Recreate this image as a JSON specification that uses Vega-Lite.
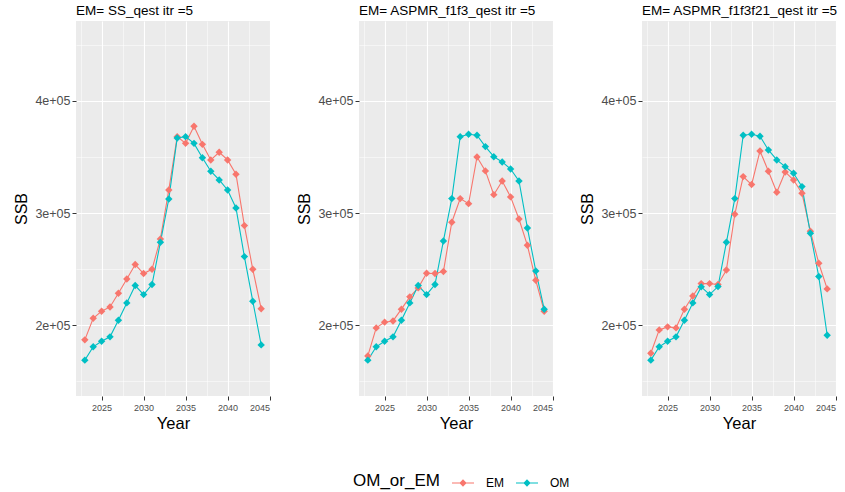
{
  "$schema": "https://vega.github.io/schema/vega-lite/v6.json",
  "padding": {"left": 13, "top": 3, "right": 2, "bottom": 2},
  "bounds": "flush",
  "spacing": 89,
  "background": "white",
  "datasets": {
    "ssb": [
      {"panel":"SS","type":"EM","year":2023,"ssb":186800},{"panel":"SS","type":"EM","year":2024,"ssb":206100},{"panel":"SS","type":"EM","year":2025,"ssb":212400},{"panel":"SS","type":"EM","year":2026,"ssb":216200},{"panel":"SS","type":"EM","year":2027,"ssb":228400},{"panel":"SS","type":"EM","year":2028,"ssb":241200},{"panel":"SS","type":"EM","year":2029,"ssb":254000},{"panel":"SS","type":"EM","year":2030,"ssb":246000},{"panel":"SS","type":"EM","year":2031,"ssb":249800},{"panel":"SS","type":"EM","year":2032,"ssb":276900},{"panel":"SS","type":"EM","year":2033,"ssb":320600},{"panel":"SS","type":"EM","year":2034,"ssb":368200},{"panel":"SS","type":"EM","year":2035,"ssb":362200},{"panel":"SS","type":"EM","year":2036,"ssb":377400},{"panel":"SS","type":"EM","year":2037,"ssb":361300},{"panel":"SS","type":"EM","year":2038,"ssb":347400},{"panel":"SS","type":"EM","year":2039,"ssb":354200},{"panel":"SS","type":"EM","year":2040,"ssb":347400},{"panel":"SS","type":"EM","year":2041,"ssb":334600},{"panel":"SS","type":"EM","year":2042,"ssb":288800},{"panel":"SS","type":"EM","year":2043,"ssb":249800},{"panel":"SS","type":"EM","year":2044,"ssb":214500},
      {"panel":"SS","type":"OM","year":2023,"ssb":168700},{"panel":"SS","type":"OM","year":2024,"ssb":180600},{"panel":"SS","type":"OM","year":2025,"ssb":185600},{"panel":"SS","type":"OM","year":2026,"ssb":189500},{"panel":"SS","type":"OM","year":2027,"ssb":204300},{"panel":"SS","type":"OM","year":2028,"ssb":219800},{"panel":"SS","type":"OM","year":2029,"ssb":235300},{"panel":"SS","type":"OM","year":2030,"ssb":227200},{"panel":"SS","type":"OM","year":2031,"ssb":236200},{"panel":"SS","type":"OM","year":2032,"ssb":273900},{"panel":"SS","type":"OM","year":2033,"ssb":312600},{"panel":"SS","type":"OM","year":2034,"ssb":367000},{"panel":"SS","type":"OM","year":2035,"ssb":368200},{"panel":"SS","type":"OM","year":2036,"ssb":362200},{"panel":"SS","type":"OM","year":2037,"ssb":349400},{"panel":"SS","type":"OM","year":2038,"ssb":337300},{"panel":"SS","type":"OM","year":2039,"ssb":329500},{"panel":"SS","type":"OM","year":2040,"ssb":320600},{"panel":"SS","type":"OM","year":2041,"ssb":304500},{"panel":"SS","type":"OM","year":2042,"ssb":261100},{"panel":"SS","type":"OM","year":2043,"ssb":221300},{"panel":"SS","type":"OM","year":2044,"ssb":182300},
      {"panel":"F13","type":"EM","year":2023,"ssb":172500},{"panel":"F13","type":"EM","year":2024,"ssb":197500},{"panel":"F13","type":"EM","year":2025,"ssb":202600},{"panel":"F13","type":"EM","year":2026,"ssb":203700},{"panel":"F13","type":"EM","year":2027,"ssb":214200},{"panel":"F13","type":"EM","year":2028,"ssb":225200},{"panel":"F13","type":"EM","year":2029,"ssb":233200},{"panel":"F13","type":"EM","year":2030,"ssb":246300},{"panel":"F13","type":"EM","year":2031,"ssb":246000},{"panel":"F13","type":"EM","year":2032,"ssb":247800},{"panel":"F13","type":"EM","year":2033,"ssb":291800},{"panel":"F13","type":"EM","year":2034,"ssb":312900},{"panel":"F13","type":"EM","year":2035,"ssb":308400},{"panel":"F13","type":"EM","year":2036,"ssb":350000},{"panel":"F13","type":"EM","year":2037,"ssb":337600},{"panel":"F13","type":"EM","year":2038,"ssb":316400},{"panel":"F13","type":"EM","year":2039,"ssb":328600},{"panel":"F13","type":"EM","year":2040,"ssb":314400},{"panel":"F13","type":"EM","year":2041,"ssb":294700},{"panel":"F13","type":"EM","year":2042,"ssb":271200},{"panel":"F13","type":"EM","year":2043,"ssb":240000},{"panel":"F13","type":"EM","year":2044,"ssb":212400},
      {"panel":"F13","type":"OM","year":2023,"ssb":168700},{"panel":"F13","type":"OM","year":2024,"ssb":180600},{"panel":"F13","type":"OM","year":2025,"ssb":185600},{"panel":"F13","type":"OM","year":2026,"ssb":189500},{"panel":"F13","type":"OM","year":2027,"ssb":204300},{"panel":"F13","type":"OM","year":2028,"ssb":219800},{"panel":"F13","type":"OM","year":2029,"ssb":235300},{"panel":"F13","type":"OM","year":2030,"ssb":227200},{"panel":"F13","type":"OM","year":2031,"ssb":236200},{"panel":"F13","type":"OM","year":2032,"ssb":275100},{"panel":"F13","type":"OM","year":2033,"ssb":312900},{"panel":"F13","type":"OM","year":2034,"ssb":368200},{"panel":"F13","type":"OM","year":2035,"ssb":370300},{"panel":"F13","type":"OM","year":2036,"ssb":369400},{"panel":"F13","type":"OM","year":2037,"ssb":359300},{"panel":"F13","type":"OM","year":2038,"ssb":350300},{"panel":"F13","type":"OM","year":2039,"ssb":345600},{"panel":"F13","type":"OM","year":2040,"ssb":339300},{"panel":"F13","type":"OM","year":2041,"ssb":328600},{"panel":"F13","type":"OM","year":2042,"ssb":286700},{"panel":"F13","type":"OM","year":2043,"ssb":248300},{"panel":"F13","type":"OM","year":2044,"ssb":214200},
      {"panel":"F1321","type":"EM","year":2023,"ssb":174900},{"panel":"F1321","type":"EM","year":2024,"ssb":195700},{"panel":"F1321","type":"EM","year":2025,"ssb":198400},{"panel":"F1321","type":"EM","year":2026,"ssb":197500},{"panel":"F1321","type":"EM","year":2027,"ssb":214200},{"panel":"F1321","type":"EM","year":2028,"ssb":226000},{"panel":"F1321","type":"EM","year":2029,"ssb":237000},{"panel":"F1321","type":"EM","year":2030,"ssb":237000},{"panel":"F1321","type":"EM","year":2031,"ssb":236200},{"panel":"F1321","type":"EM","year":2032,"ssb":249200},{"panel":"F1321","type":"EM","year":2033,"ssb":298900},{"panel":"F1321","type":"EM","year":2034,"ssb":332500},{"panel":"F1321","type":"EM","year":2035,"ssb":325400},{"panel":"F1321","type":"EM","year":2036,"ssb":355400},{"panel":"F1321","type":"EM","year":2037,"ssb":337300},{"panel":"F1321","type":"EM","year":2038,"ssb":318500},{"panel":"F1321","type":"EM","year":2039,"ssb":336700},{"panel":"F1321","type":"EM","year":2040,"ssb":329500},{"panel":"F1321","type":"EM","year":2041,"ssb":317600},{"panel":"F1321","type":"EM","year":2042,"ssb":283700},{"panel":"F1321","type":"EM","year":2043,"ssb":255200},{"panel":"F1321","type":"EM","year":2044,"ssb":232300},
      {"panel":"F1321","type":"OM","year":2023,"ssb":168700},{"panel":"F1321","type":"OM","year":2024,"ssb":180600},{"panel":"F1321","type":"OM","year":2025,"ssb":185600},{"panel":"F1321","type":"OM","year":2026,"ssb":189500},{"panel":"F1321","type":"OM","year":2027,"ssb":204300},{"panel":"F1321","type":"OM","year":2028,"ssb":219800},{"panel":"F1321","type":"OM","year":2029,"ssb":234100},{"panel":"F1321","type":"OM","year":2030,"ssb":227200},{"panel":"F1321","type":"OM","year":2031,"ssb":234400},{"panel":"F1321","type":"OM","year":2032,"ssb":273900},{"panel":"F1321","type":"OM","year":2033,"ssb":312900},{"panel":"F1321","type":"OM","year":2034,"ssb":369400},{"panel":"F1321","type":"OM","year":2035,"ssb":370300},{"panel":"F1321","type":"OM","year":2036,"ssb":368500},{"panel":"F1321","type":"OM","year":2037,"ssb":356300},{"panel":"F1321","type":"OM","year":2038,"ssb":347400},{"panel":"F1321","type":"OM","year":2039,"ssb":341400},{"panel":"F1321","type":"OM","year":2040,"ssb":335500},{"panel":"F1321","type":"OM","year":2041,"ssb":323600},{"panel":"F1321","type":"OM","year":2042,"ssb":281900},{"panel":"F1321","type":"OM","year":2043,"ssb":243300},{"panel":"F1321","type":"OM","year":2044,"ssb":190900}
    ]
  },
  "data": {"name": "ssb"},
  "hconcat": [
    {
      "title": {"text": "EM= SS_qest itr =5"},
      "width": 194, "height": 375,
      "transform": [{"filter": "datum.panel === 'SS'"}],
      "encoding": {
        "x": {"field": "year", "type": "quantitative", "title": "Year", "scale": {"domain": [2021.95, 2045.05], "nice": false, "zero": false},
              "axis": {"values": [2022.5, 2025, 2027.5, 2030, 2032.5, 2035, 2037.5, 2040, 2042.5, 2045], "labelExpr": "datum.value % 5 === 0 ? datum.label : ''", "format": "d",
                       "gridWidth": {"condition": {"test": "datum.value % 5 === 0", "value": 1.1}, "value": 0.5},
                       "tickOpacity": {"condition": {"test": "datum.value % 5 === 0", "value": 1}, "value": 0}}},
        "y": {"field": "ssb", "type": "quantitative", "title": "SSB", "scale": {"domain": [136700, 471400], "nice": false, "zero": false},
              "axis": {"values": [150000, 200000, 250000, 300000, 350000, 400000, 450000], "labelExpr": "datum.value % 100000 === 0 ? (datum.value / 100000) + 'e+05' : ''",
                       "gridWidth": {"condition": {"test": "datum.value % 100000 === 0", "value": 1.1}, "value": 0.5},
                       "tickOpacity": {"condition": {"test": "datum.value % 100000 === 0", "value": 1}, "value": 0}}}
      },
      "layer": [
        {"mark": {"type": "line", "strokeWidth": 1.1}, "encoding": {"stroke": {"field": "type", "type": "nominal", "legend": null}}},
        {"mark": {"type": "point", "shape": "diamond", "filled": true, "size": 55, "opacity": 1}, "encoding": {"color": {"field": "type", "type": "nominal", "title": "OM_or_EM"}}}
      ]
    },
    {
      "title": {"text": "EM= ASPMR_f1f3_qest itr =5"},
      "width": 194, "height": 375,
      "transform": [{"filter": "datum.panel === 'F13'"}],
      "encoding": {
        "x": {"field": "year", "type": "quantitative", "title": "Year", "scale": {"domain": [2021.95, 2045.05], "nice": false, "zero": false},
              "axis": {"values": [2022.5, 2025, 2027.5, 2030, 2032.5, 2035, 2037.5, 2040, 2042.5, 2045], "labelExpr": "datum.value % 5 === 0 ? datum.label : ''", "format": "d",
                       "gridWidth": {"condition": {"test": "datum.value % 5 === 0", "value": 1.1}, "value": 0.5},
                       "tickOpacity": {"condition": {"test": "datum.value % 5 === 0", "value": 1}, "value": 0}}},
        "y": {"field": "ssb", "type": "quantitative", "title": "SSB", "scale": {"domain": [136700, 471400], "nice": false, "zero": false},
              "axis": {"values": [150000, 200000, 250000, 300000, 350000, 400000, 450000], "labelExpr": "datum.value % 100000 === 0 ? (datum.value / 100000) + 'e+05' : ''",
                       "gridWidth": {"condition": {"test": "datum.value % 100000 === 0", "value": 1.1}, "value": 0.5},
                       "tickOpacity": {"condition": {"test": "datum.value % 100000 === 0", "value": 1}, "value": 0}}}
      },
      "layer": [
        {"mark": {"type": "line", "strokeWidth": 1.1}, "encoding": {"stroke": {"field": "type", "type": "nominal", "legend": null}}},
        {"mark": {"type": "point", "shape": "diamond", "filled": true, "size": 55, "opacity": 1}, "encoding": {"color": {"field": "type", "type": "nominal", "title": "OM_or_EM"}}}
      ]
    },
    {
      "title": {"text": "EM= ASPMR_f1f3f21_qest itr =5"},
      "width": 194, "height": 375,
      "transform": [{"filter": "datum.panel === 'F1321'"}],
      "encoding": {
        "x": {"field": "year", "type": "quantitative", "title": "Year", "scale": {"domain": [2021.95, 2045.05], "nice": false, "zero": false},
              "axis": {"values": [2022.5, 2025, 2027.5, 2030, 2032.5, 2035, 2037.5, 2040, 2042.5, 2045], "labelExpr": "datum.value % 5 === 0 ? datum.label : ''", "format": "d",
                       "gridWidth": {"condition": {"test": "datum.value % 5 === 0", "value": 1.1}, "value": 0.5},
                       "tickOpacity": {"condition": {"test": "datum.value % 5 === 0", "value": 1}, "value": 0}}},
        "y": {"field": "ssb", "type": "quantitative", "title": "SSB", "scale": {"domain": [136700, 471400], "nice": false, "zero": false},
              "axis": {"values": [150000, 200000, 250000, 300000, 350000, 400000, 450000], "labelExpr": "datum.value % 100000 === 0 ? (datum.value / 100000) + 'e+05' : ''",
                       "gridWidth": {"condition": {"test": "datum.value % 100000 === 0", "value": 1.1}, "value": 0.5},
                       "tickOpacity": {"condition": {"test": "datum.value % 100000 === 0", "value": 1}, "value": 0}}}
      },
      "layer": [
        {"mark": {"type": "line", "strokeWidth": 1.1}, "encoding": {"stroke": {"field": "type", "type": "nominal", "legend": null}}},
        {"mark": {"type": "point", "shape": "diamond", "filled": true, "size": 55, "opacity": 1}, "encoding": {"color": {"field": "type", "type": "nominal", "title": "OM_or_EM"}}}
      ]
    }
  ],
  "resolve": {"scale": {"color": "shared", "stroke": "shared"}},
  "config": {
    "font": "Liberation Sans",
    "view": {"fill": "#EBEBEB", "stroke": null},
    "range": {"category": ["#F8766D", "#00BFC4"]},
    "title": {"anchor": "start", "frame": "group", "fontSize": 13.5, "fontWeight": "normal", "offset": 4, "color": "#000000"},
    "axis": {"domain": false, "tickColor": "#333333", "tickSize": 4, "labelColor": "#4D4D4D", "titleColor": "#000000", "titleFontWeight": "normal", "gridColor": "#FFFFFF", "gridOpacity": 1},
    "axisY": {"labelFontSize": 12.5, "titleFontSize": 16, "labelPadding": 2, "titlePadding": 5},
    "axisX": {"labelFontSize": 9, "titleFontSize": 16.5, "labelPadding": 3, "titlePadding": 3},
    "legend": {"orient": "none", "legendX": 277, "legendY": 451, "direction": "horizontal", "titleOrient": "left",
               "symbolType": "M-1,-0.05L1,-0.05L1,0.05L-1,0.05Z M0,-0.33L0.33,0L0,0.33L-0.33,0Z", "symbolSize": 484, "symbolStrokeWidth": 0,
               "titleFontSize": 17, "labelFontSize": 12, "titleFontWeight": "normal", "titleColor": "#000000", "labelColor": "#000000",
               "titlePadding": 12, "labelOffset": 12, "columnPadding": 12, "titleBaseline": "middle", "symbolOpacity": 1}
  }
}
